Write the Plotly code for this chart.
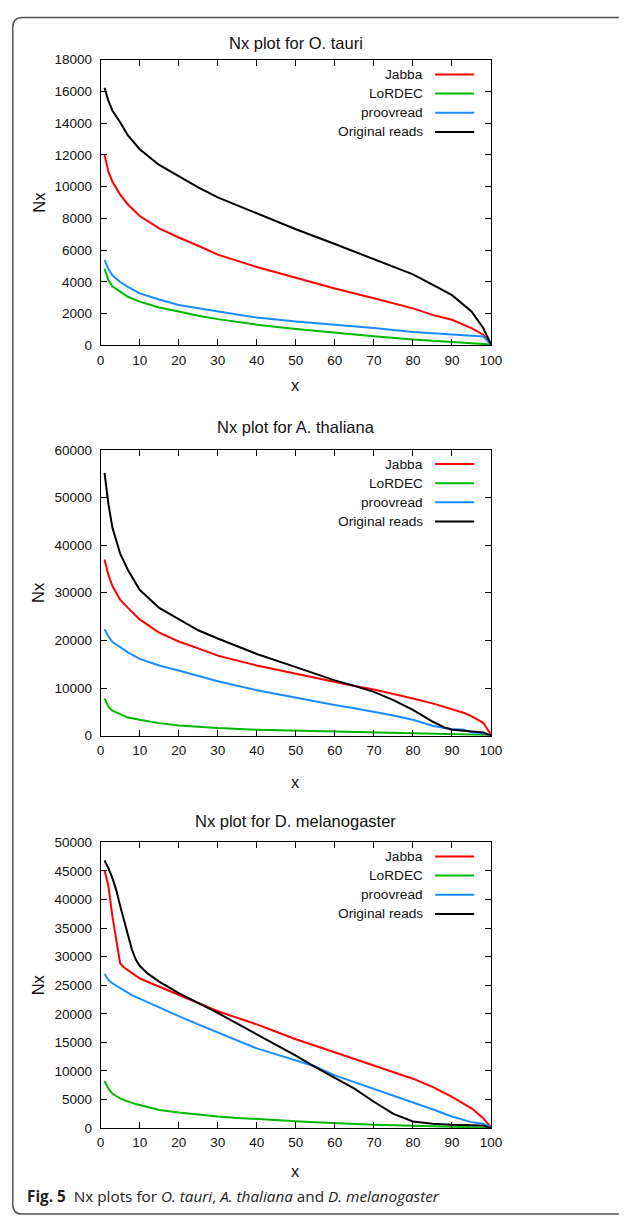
import plotly.graph_objects as go

W, H = 625, 1223

series_names = ["Jabba", "LoRDEC", "proovread", "Original reads"]
series_colors = ["#ff0000", "#00b800", "#1a8cff", "#000000"]
panel_titles = ["Nx plot for O. tauri", "Nx plot for A. thaliana", "Nx plot for D. melanogaster"]
x_title = "x"
y_title = "Nx"
caption = "<b>Fig. 5</b>  Nx plots for <i>O. tauri</i>, <i>A. thaliana</i> and <i>D. melanogaster</i>"

x_ticks = [0, 10, 20, 30, 40, 50, 60, 70, 80, 90, 100]
y_ticks_tauri = [0, 2000, 4000, 6000, 8000, 10000, 12000, 14000, 16000, 18000]
y_ticks_thaliana = [0, 10000, 20000, 30000, 40000, 50000, 60000]
y_ticks_melano = [0, 5000, 10000, 15000, 20000, 25000, 30000, 35000, 40000, 45000, 50000]

# ---- O. tauri ----
tauri_x = [1, 2, 3, 5, 7, 10, 15, 20, 25, 30, 40, 50, 60, 70, 80, 85, 90, 95, 98, 100]
tauri_jabba = [12000, 10950, 10330, 9500, 8880, 8150, 7380, 6800, 6280, 5720, 4940, 4270, 3590, 2970, 2340, 1930, 1620, 1100, 680, 60]
tauri_lordec = [4830, 4110, 3730, 3380, 3070, 2760, 2390, 2140, 1870, 1660, 1310, 1040, 790, 580, 370, 300, 230, 170, 130, 60]
tauri_proovread = [5390, 4830, 4420, 4000, 3690, 3280, 2900, 2550, 2340, 2140, 1760, 1510, 1310, 1100, 850, 760, 680, 580, 570, 60]
tauri_original = [16230, 15400, 14800, 14060, 13230, 12360, 11370, 10640, 9960, 9330, 8300, 7320, 6390, 5460, 4480, 3840, 3170, 2140, 1100, 60]

# ---- A. thaliana ----
thal_x = [1, 2, 3, 5, 7, 10, 15, 20, 25, 30, 40, 50, 60, 65, 70, 75, 80, 85, 88, 90, 93, 95, 98, 100]
thal_jabba = [36980, 33730, 31450, 28550, 26820, 24400, 21630, 19770, 18320, 16800, 14720, 12990, 11130, 10400, 9680, 8800, 7810, 6770, 6000, 5500, 4800, 4100, 2700, 200]
thal_lordec = [7810, 6080, 5250, 4490, 3800, 3320, 2630, 2140, 1850, 1590, 1240, 1040, 830, 720, 620, 550, 480, 420, 380, 350, 300, 260, 200, 140]
thal_proovread = [22330, 20800, 19700, 18520, 17490, 16100, 14720, 13690, 12510, 11410, 9540, 7950, 6430, 5750, 5050, 4250, 3320, 2070, 1590, 1380, 1240, 690, 500, 0]
thal_original = [55160, 48590, 43750, 38220, 34770, 30620, 26820, 24400, 22120, 20390, 17140, 14380, 11610, 10440, 9190, 7460, 5390, 2970, 1730, 1240, 1000, 900, 690, 0]

# ---- D. melanogaster ----
mel_x = [1, 2, 3, 4, 5, 6, 7, 8, 9, 10, 12, 15, 20, 25, 30, 35, 40, 45, 50, 55, 60, 65, 70, 75, 80, 85, 90, 95, 98, 100]
mel_jabba = [45100, 42340, 37150, 32540, 28800, 28100, 27650, 27200, 26700, 26210, 25600, 24770, 23330, 21890, 20450, 19300, 18140, 16850, 15550, 14400, 13250, 12100, 10940, 9800, 8640, 7200, 5470, 3460, 1730, 120]
mel_lordec = [8240, 6910, 6050, 5550, 5180, 4880, 4610, 4400, 4200, 4030, 3650, 3170, 2710, 2350, 2020, 1780, 1560, 1380, 1210, 1040, 860, 720, 580, 490, 400, 340, 290, 200, 120, 60]
mel_proovread = [26960, 25920, 25340, 24900, 24480, 24050, 23620, 23250, 22950, 22640, 21950, 21020, 19580, 18140, 16700, 15300, 13940, 12900, 11810, 10770, 9220, 8050, 6910, 5750, 4610, 3300, 2020, 1040, 750, 120]
mel_original = [46830, 45500, 43780, 41640, 38880, 36290, 33810, 31280, 29490, 28400, 27070, 25630, 23620, 21890, 20160, 18260, 16420, 14520, 12670, 10660, 8810, 6910, 4610, 2480, 1150, 750, 580, 520, 450, 0]

panels = [
    (tauri_x, [tauri_jabba, tauri_lordec, tauri_proovread, tauri_original], y_ticks_tauri),
    (thal_x, [thal_jabba, thal_lordec, thal_proovread, thal_original], y_ticks_thaliana),
    (mel_x, [mel_jabba, mel_lordec, mel_proovread, mel_original], y_ticks_melano),
]

# ---- layout geometry (pixels) ----
PL, PR = 99, 499
panel_px = [(53.3, 342.7), (448.3, 737.7), (845.7, 1135.0)]
title_y = [36, 425, 824]
xlabel_y = [383, 785, 1178]
legend_first_row = [15.0, 14.4, 14.3]
legend_row_gap = 19.4


def px(x):
    return x / W


def py(y):
    return 1 - y / H


FONT = "Liberation Sans, Arial, sans-serif"
fig = go.Figure()
layout = dict(
    width=W, height=H,
    margin=dict(l=0, r=0, t=0, b=0, pad=0),
    paper_bgcolor="white", plot_bgcolor="white",
    showlegend=False,
    font=dict(family=FONT, color="#111111"),
)
annotations = []
shapes = []

for i, (xs, ys_list, yticks) in enumerate(panels):
    n = "" if i == 0 else str(i + 1)
    top, bot = panel_px[i]
    for name, color, ys in zip(series_names, series_colors, ys_list):
        fig.add_trace(go.Scatter(
            x=xs, y=ys, mode="lines", name=name,
            line=dict(color=color, width=2, shape="linear"),
            xaxis="x" + n, yaxis="y" + n, showlegend=False,
        ))
    axis_common = dict(
        showgrid=False, zeroline=False, showline=True, linecolor="#000000", linewidth=1,
        mirror="ticks", ticks="inside", ticklen=6, tickwidth=1, tickcolor="#000000",
        tickfont=dict(family=FONT, size=13.5, color="#111111"),
    )
    layout["xaxis" + n] = dict(
        axis_common, domain=[px(PL), px(PR)], range=[0, 100],
        tickvals=x_ticks, ticktext=[str(v) for v in x_ticks],
        anchor="y" + n, ticklabelstandoff=2,
    )
    layout["yaxis" + n] = dict(
        axis_common, domain=[py(bot), py(top)], range=[yticks[0], yticks[-1]],
        tickvals=yticks, ticktext=[str(v) for v in yticks],
        anchor="x" + n, ticklabelstandoff=5,
    )
    # panel title
    annotations.append(dict(
        text=panel_titles[i], x=px((PL + PR) / 2), y=py(title_y[i]), xref="paper", yref="paper",
        xanchor="center", yanchor="middle", showarrow=False, font=dict(family=FONT, size=16.5, color="#111111"),
    ))
    # axis titles
    annotations.append(dict(
        text=x_title, x=px((PL + PR) / 2), y=py(xlabel_y[i]), xref="paper", yref="paper",
        xanchor="center", yanchor="middle", showarrow=False, font=dict(family=FONT, size=16.5, color="#111111"),
    ))
    annotations.append(dict(
        text=y_title, x=px(35), y=py((top + bot) / 2), xref="paper", yref="paper", textangle=-90,
        xanchor="center", yanchor="middle", showarrow=False, font=dict(family=FONT, size=16.5, color="#111111"),
    ))
    # gnuplot-style legend: right-aligned text, line sample on its right
    for k, (name, color) in enumerate(zip(series_names, series_colors)):
        ry = top + legend_first_row[i] + k * legend_row_gap
        annotations.append(dict(
            text=name, x=px(431), y=py(ry), xref="paper", yref="paper",
            xanchor="right", yanchor="middle", showarrow=False, font=dict(family=FONT, size=13.7, color="#111111"),
        ))
        shapes.append(dict(
            type="line", xref="paper", yref="paper", x0=px(441.7), x1=px(481.7), y0=py(ry), y1=py(ry),
            line=dict(color=color, width=2),
        ))

# caption
annotations.append(dict(
    text=caption, x=px(22), y=py(1204), xref="paper", yref="paper",
    xanchor="left", yanchor="middle", showarrow=False,
    font=dict(family="Open Sans, Noto Sans, sans-serif", size=15.3, color="#222222"),
))

# rounded figure frame
r = 10
fl, ft, fb, fr = 9, 10.7, 1222, 630
path = (
    f"M {px(fr)},{py(ft)} L {px(fl + r)},{py(ft)} "
    f"Q {px(fl)},{py(ft)} {px(fl)},{py(ft + r)} "
    f"L {px(fl)},{py(fb - r)} Q {px(fl)},{py(fb)} {px(fl + r)},{py(fb)} L {px(fr)},{py(fb)}"
)
shapes.append(dict(type="path", xref="paper", yref="paper", path=path,
                   line=dict(color="#555555", width=1.5)))

layout["annotations"] = annotations
layout["shapes"] = shapes
fig.update_layout(**layout)
fig.write_html(
    "out.html",
    config={"displayModeBar": False},
    post_script="document.documentElement.style.margin='0';document.body.style.margin='0';document.documentElement.style.overflow='hidden';document.body.style.overflow='hidden';",
)
